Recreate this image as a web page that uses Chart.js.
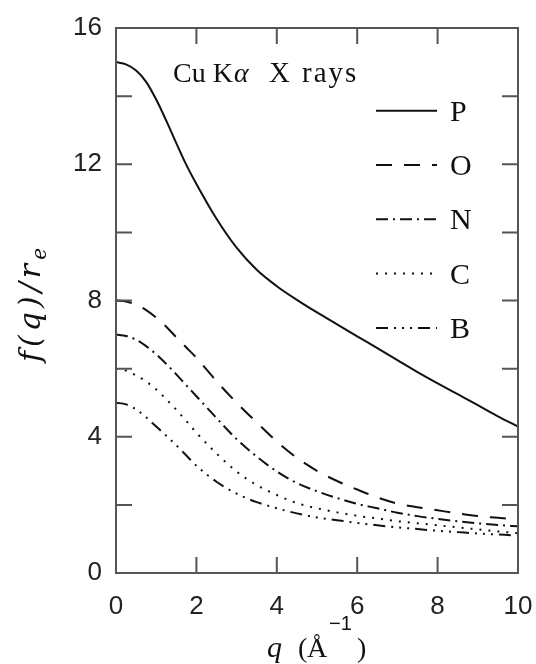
<!DOCTYPE html>
<html>
<head>
<meta charset="utf-8">
<script src="https://cdn.jsdelivr.net/npm/chart.js@4.4.1/dist/chart.umd.min.js"></script>
<style>
  html, body { margin: 0; padding: 0; background: #fff; }
  #box { width: 536px; height: 664px; }
</style>
</head>
<body>
<div id="box"><canvas id="formChart" width="536" height="664"></canvas></div>
<script>
// --- données (q en 1/Å, f(q)/r_e) ---
const qValues = [0, 0.25, 0.5, 0.75, 1, 1.25, 1.5, 1.75, 2, 2.5, 3, 3.5, 4, 4.5, 5, 5.5, 6, 6.5, 7, 7.5, 8, 8.5, 9, 9.5, 10];
const fP = [15.0, 14.93, 14.75, 14.42, 13.9, 13.28, 12.62, 11.98, 11.42, 10.4, 9.55, 8.9, 8.42, 8.02, 7.65, 7.3, 6.95, 6.6, 6.25, 5.9, 5.57, 5.25, 4.93, 4.6, 4.3];
const fO = [8.0, 7.97, 7.88, 7.72, 7.5, 7.23, 6.92, 6.62, 6.32, 5.63, 5.0, 4.42, 3.86, 3.38, 3.0, 2.7, 2.45, 2.22, 2.04, 1.93, 1.84, 1.75, 1.67, 1.62, 1.58];
const fN = [7.0, 6.96, 6.85, 6.66, 6.42, 6.14, 5.83, 5.51, 5.19, 4.55, 3.93, 3.42, 2.98, 2.64, 2.4, 2.2, 2.03, 1.9, 1.77, 1.67, 1.59, 1.52, 1.46, 1.41, 1.37];
const fC = [6.0, 5.94, 5.8, 5.62, 5.39, 5.1, 4.79, 4.46, 4.12, 3.51, 2.98, 2.58, 2.29, 2.05, 1.9, 1.78, 1.68, 1.6, 1.52, 1.46, 1.4, 1.34, 1.28, 1.22, 1.17];
const fB = [5.0, 4.95, 4.8, 4.57, 4.3, 4.03, 3.75, 3.45, 3.15, 2.68, 2.33, 2.08, 1.9, 1.75, 1.63, 1.55, 1.47, 1.4, 1.34, 1.29, 1.24, 1.2, 1.16, 1.13, 1.1];
const seriesLabels = ["P", "O", "N", "C", "B"];
const xTickMarks = [2, 4, 6, 8];
const yTickMarks = [2, 4, 6, 8, 10, 12, 14];

const dashes = [[], [16, 12], [12, 5, 2, 5], [2, 7], [12, 6, 2, 6, 2, 6, 2, 6]];
const allSeries = [fP, fO, fN, fC, fB];

function toPoints(arr) {
  return qValues.map((q, i) => ({ x: q, y: arr[i] }));
}

const datasets = allSeries.map((arr, i) => ({
  label: seriesLabels[i],
  data: toPoints(arr),
  borderColor: "#111",
  borderWidth: 2,
  borderDash: dashes[i],
  pointRadius: 0,
  fill: false,
  showLine: true,
  cubicInterpolationMode: "monotone",
}));

// cadre, graduations internes, titres, légende
const decorPlugin = {
  id: "decor",
  afterDraw(chart) {
    const ctx = chart.ctx;
    const a = chart.chartArea;
    const xs = chart.scales.x;
    const ys = chart.scales.y;
    const tl = 16;

    ctx.save();
    ctx.strokeStyle = "#555";
    ctx.lineWidth = 2;
    ctx.setLineDash([]);
    ctx.strokeRect(a.left, a.top, a.right - a.left, a.bottom - a.top);
    ctx.beginPath();
    xTickMarks.forEach((v) => {
      const px = xs.getPixelForValue(v);
      ctx.moveTo(px, a.bottom); ctx.lineTo(px, a.bottom - tl);
      ctx.moveTo(px, a.top); ctx.lineTo(px, a.top + tl);
    });
    yTickMarks.forEach((v) => {
      const py = ys.getPixelForValue(v);
      ctx.moveTo(a.left, py); ctx.lineTo(a.left + tl, py);
      ctx.moveTo(a.right, py); ctx.lineTo(a.right - tl, py);
    });
    ctx.stroke();

    ctx.fillStyle = "#111";
    ctx.textAlign = "left";
    ctx.textBaseline = "alphabetic";

    // annotation
    ctx.font = '28px "Liberation Serif"';
    ctx.fillText("Cu K", 173, 82);
    const wCuK = ctx.measureText("Cu K").width;
    ctx.font = 'italic 28px "Liberation Serif"';
    ctx.fillText("α", 173 + wCuK + 1, 82);
    ctx.font = '29px "Liberation Serif"';
    ctx.fillText("X", 269, 82);
    ctx.letterSpacing = "2px";
    ctx.fillText("rays", 302, 82);
    ctx.letterSpacing = "0px";

    // légende
    chart.data.datasets.forEach((ds, i) => {
      const y = 110.7 + i * 54.3;
      ctx.strokeStyle = "#111";
      ctx.lineWidth = 2;
      ctx.setLineDash(ds.borderDash);
      ctx.beginPath();
      ctx.moveTo(376, y);
      ctx.lineTo(437, y);
      ctx.stroke();
      ctx.setLineDash([]);
      ctx.font = '30px "Liberation Serif"';
      ctx.fillText(ds.label, 450, y + 10);
    });

    // titre axe x : q (Å^-1)
    ctx.font = 'italic 30px "Liberation Serif"';
    ctx.fillText("q", 267, 657);
    ctx.font = '28px "Liberation Serif"';
    ctx.fillText("(", 298, 657);
    ctx.fillText("Å", 307, 657);
    ctx.font = '20px "Liberation Sans"';
    ctx.fillText("−1", 329, 630);
    ctx.font = '28px "Liberation Serif"';
    ctx.fillText(")", 357, 657);

    // titre axe y : f(q)/r_e
    ctx.translate(40, 303);
    ctx.rotate(-Math.PI / 2);
    ctx.font = 'italic 30px "DejaVu Serif"';
    ctx.letterSpacing = "4px";
    const main = "f(q)/r";
    const wm = ctx.measureText(main).width;
    ctx.font = 'italic 20px "DejaVu Serif"';
    const we = ctx.measureText("e").width;
    const x0 = -(wm + we) / 2;
    ctx.font = 'italic 30px "DejaVu Serif"';
    ctx.fillText(main, x0, 0);
    ctx.font = 'italic 20px "DejaVu Serif"';
    ctx.fillText("e", x0 + wm, 6);
    ctx.restore();
  },
};

const tickFont = { family: '"Liberation Sans"', size: 26 };

new Chart(document.getElementById("formChart"), {
  type: "scatter",
  data: { datasets: datasets },
  options: {
    responsive: false,
    animation: false,
    devicePixelRatio: 1,
    layout: { padding: { left: 0, top: 28, right: 18, bottom: 0 } },
    plugins: { legend: { display: false }, tooltip: { enabled: false } },
    scales: {
      x: {
        type: "linear",
        min: 0,
        max: 10,
        ticks: { stepSize: 2, font: tickFont, color: "#222", padding: 18, maxRotation: 0 },
        grid: { display: false, drawTicks: false },
        border: { display: false },
        afterFit: (s) => { s.height = 91; s.paddingLeft = 0; s.paddingRight = 0; },
      },
      y: {
        type: "linear",
        min: 0,
        max: 16,
        ticks: { stepSize: 4, font: tickFont, color: "#222", padding: 14 },
        grid: { display: false, drawTicks: false },
        border: { display: false },
        afterFit: (s) => { s.width = 116; s.paddingTop = 0; s.paddingBottom = 0; },
      },
    },
  },
  plugins: [decorPlugin],
});
</script>
</body>
</html>
